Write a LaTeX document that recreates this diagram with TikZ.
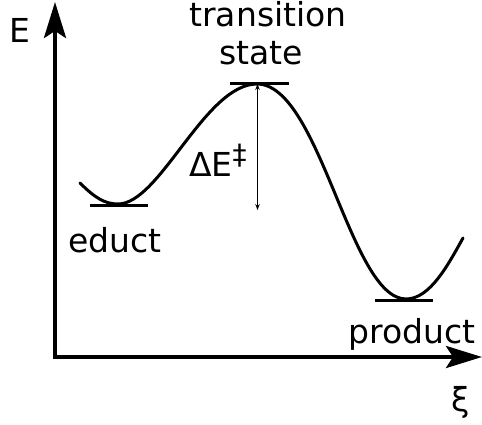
\documentclass[tikz,border=0pt]{standalone}
\usepackage{fontspec}
\setmainfont{DejaVu Sans}
\usetikzlibrary{arrows.meta}
\begin{document}
\begin{tikzpicture}[x=1pt,y=-1pt,
  axis/.style={line width=4pt,-{Stealth[length=36pt,width=22pt,inset=7pt]}},
  curve/.style={line width=3pt},
  level/.style={line width=3pt},
  barrier/.style={line width=1.3pt,{Stealth[length=6pt,width=4.5pt]}-{Stealth[length=6pt,width=4.5pt]}},
  lbl/.style={font=\fontsize{33}{33}\selectfont,inner sep=0pt}]
\useasboundingbox (0,0) rectangle (482,425);
% axes
\coordinate (O) at (55,357);
\coordinate (Etop) at (55,2);
\coordinate (Xend) at (482,357);
\draw[axis] ([yshift=-2pt]O) -- (Etop);
\draw[axis] ([xshift=-2pt]O) -- (Xend);
% curve
\coordinate (c0) at (80,183);
\coordinate (ed) at (118,204);
\coordinate (ts) at (257,84);
\coordinate (pr) at (406,299);
\coordinate (c4) at (463,238);
\draw[curve,line cap=round] (c0) .. controls (95,198) and (105,204) .. (ed)
  .. controls (160,204) and (205,84) .. (ts)
  .. controls (320,84) and (350,299) .. (pr)
  .. controls (430,299) and (448,265) .. (c4);
% levels
\coordinate (edL) at (90,205.5);
\coordinate (edR) at (148,205.5);
\coordinate (tsL) at (230,84);
\coordinate (tsR) at (289,84);
\coordinate (prL) at (375,300.5);
\coordinate (prR) at (433,300.5);
\draw[level] (edL) -- (edR);
\draw[level] (tsL) -- (tsR);
\draw[level] (prL) -- (prR);
% barrier arrow
\coordinate (dEtop) at (257.5,84);
\coordinate (dEbot) at (257.5,210);
\draw[barrier] (dEtop) -- (dEbot);
% labels
\node[lbl,anchor=base] (Elbl) at (20,43) {E};
\node[lbl,anchor=base] (trans) at (268,27) {transition};
\node[lbl,anchor=base] (state) at (261,65) {state};
\node[lbl,anchor=base] (educt) at (115,252) {educt};
\node[lbl,anchor=base] (product) at (412,343) {product};
\node[lbl,anchor=center] (xi) at (461,402) {ξ};
\node[lbl,anchor=base west] (dE) at (189,176) {ΔE{\fontsize{28}{28}\selectfont\raisebox{12pt}{‡}}};
\end{tikzpicture}
\end{document}
